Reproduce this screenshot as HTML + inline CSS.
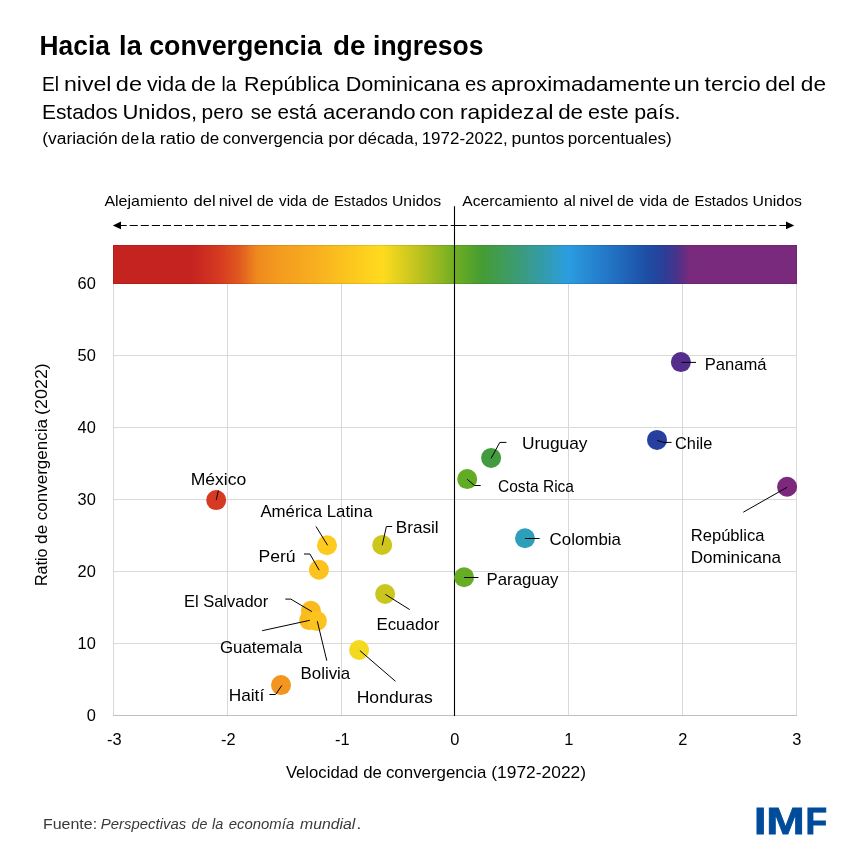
<!DOCTYPE html>
<html lang="es">
<head>
<meta charset="utf-8">
<title>Hacia la convergencia de ingresos</title>
<style>
html,body{margin:0;padding:0;background:#fff;}
body{width:867px;height:867px;overflow:hidden;}
svg{display:block;font-family:"Liberation Sans", sans-serif;}
text{white-space:pre;}
</style>
</head>
<body>
<svg width="867" height="867" viewBox="0 0 867 867">
<defs><linearGradient id="g" x1="0" y1="0" x2="1" y2="0"><stop offset="0%" stop-color="#c42320"/><stop offset="11.5%" stop-color="#c42320"/><stop offset="15.6%" stop-color="#d63a20"/><stop offset="18.5%" stop-color="#e05a1f"/><stop offset="21.1%" stop-color="#ee8a1f"/><stop offset="24%" stop-color="#f39a1f"/><stop offset="27.2%" stop-color="#f6a51f"/><stop offset="39.4%" stop-color="#ffdb1e"/><stop offset="45%" stop-color="#b9c11f"/><stop offset="50%" stop-color="#6fae22"/><stop offset="54%" stop-color="#459c33"/><stop offset="60%" stop-color="#3a9b80"/><stop offset="66.5%" stop-color="#2b9de0"/><stop offset="73%" stop-color="#2272c3"/><stop offset="78%" stop-color="#1d4fa5"/><stop offset="80.5%" stop-color="#2b3e98"/><stop offset="82.5%" stop-color="#4a3389"/><stop offset="84.3%" stop-color="#792a7c"/><stop offset="100%" stop-color="#792a7c"/></linearGradient></defs>
<rect width="867" height="867" fill="#fff"/>
<text y="55.2" font-size="27.4" font-weight="bold" font-style="normal" fill="#000"><tspan x="39.62" textLength="70.23" lengthAdjust="spacingAndGlyphs">Hacia</tspan> <tspan x="119.12" textLength="22.63" lengthAdjust="spacingAndGlyphs">la</tspan> <tspan x="149.22" textLength="172.59" lengthAdjust="spacingAndGlyphs">convergencia</tspan> <tspan x="333.13" textLength="32.45" lengthAdjust="spacingAndGlyphs">de</tspan> <tspan x="373.07" textLength="110.37" lengthAdjust="spacingAndGlyphs">ingresos</tspan></text>
<text y="91.4" font-size="20.6" font-weight="normal" font-style="normal" fill="#000"><tspan x="42.07" textLength="17.05" lengthAdjust="spacingAndGlyphs">El</tspan> <tspan x="63.91" textLength="47.61" lengthAdjust="spacingAndGlyphs">nivel</tspan> <tspan x="115.84" textLength="26.21" lengthAdjust="spacingAndGlyphs">de</tspan> <tspan x="146.94" textLength="39.19" lengthAdjust="spacingAndGlyphs">vida</tspan> <tspan x="191.08" textLength="24.92" lengthAdjust="spacingAndGlyphs">de</tspan> <tspan x="221.40" textLength="14.93" lengthAdjust="spacingAndGlyphs">la</tspan> <tspan x="243.97" textLength="95.62" lengthAdjust="spacingAndGlyphs">República</tspan> <tspan x="345.66" textLength="114.14" lengthAdjust="spacingAndGlyphs">Dominicana</tspan> <tspan x="465.02" textLength="21.33" lengthAdjust="spacingAndGlyphs">es</tspan> <tspan x="491.01" textLength="180.11" lengthAdjust="spacingAndGlyphs">aproximadamente</tspan> <tspan x="673.78" textLength="26.03" lengthAdjust="spacingAndGlyphs">un</tspan> <tspan x="704.52" textLength="56.24" lengthAdjust="spacingAndGlyphs">tercio</tspan> <tspan x="765.18" textLength="30.18" lengthAdjust="spacingAndGlyphs">del</tspan> <tspan x="800.87" textLength="25.24" lengthAdjust="spacingAndGlyphs">de</tspan></text>
<text y="118.9" font-size="20.6" font-weight="normal" font-style="normal" fill="#000"><tspan x="41.92" textLength="75.77" lengthAdjust="spacingAndGlyphs">Estados</tspan> <tspan x="122.40" textLength="74.66" lengthAdjust="spacingAndGlyphs">Unidos,</tspan> <tspan x="201.63" textLength="41.85" lengthAdjust="spacingAndGlyphs">pero</tspan> <tspan x="250.76" textLength="21.33" lengthAdjust="spacingAndGlyphs">se</tspan> <tspan x="277.60" textLength="39.04" lengthAdjust="spacingAndGlyphs">está</tspan> <tspan x="322.92" textLength="92.72" lengthAdjust="spacingAndGlyphs">acerando</tspan> <tspan x="419.15" textLength="34.89" lengthAdjust="spacingAndGlyphs">con</tspan> <tspan x="460.05" textLength="74.30" lengthAdjust="spacingAndGlyphs">rapidez</tspan> <tspan x="535.15" textLength="18.42" lengthAdjust="spacingAndGlyphs">al</tspan> <tspan x="558.18" textLength="24.92" lengthAdjust="spacingAndGlyphs">de</tspan> <tspan x="587.95" textLength="40.73" lengthAdjust="spacingAndGlyphs">este</tspan> <tspan x="634.20" textLength="46.38" lengthAdjust="spacingAndGlyphs">país.</tspan></text>
<text y="143.8" font-size="15.8" font-weight="normal" font-style="normal" fill="#000"><tspan x="42.20" textLength="75.49" lengthAdjust="spacingAndGlyphs">(variación</tspan> <tspan x="121.33" textLength="17.96" lengthAdjust="spacingAndGlyphs">de</tspan> <tspan x="141.25" textLength="14.10" lengthAdjust="spacingAndGlyphs">la</tspan> <tspan x="159.74" textLength="35.72" lengthAdjust="spacingAndGlyphs">ratio</tspan> <tspan x="200.29" textLength="18.93" lengthAdjust="spacingAndGlyphs">de</tspan> <tspan x="222.80" textLength="100.57" lengthAdjust="spacingAndGlyphs">convergencia</tspan> <tspan x="328.36" textLength="26.14" lengthAdjust="spacingAndGlyphs">por</tspan> <tspan x="357.99" textLength="60.49" lengthAdjust="spacingAndGlyphs">década,</tspan> <tspan x="421.66" textLength="85.99" lengthAdjust="spacingAndGlyphs">1972-2022,</tspan> <tspan x="511.48" textLength="52.98" lengthAdjust="spacingAndGlyphs">puntos</tspan> <tspan x="567.81" textLength="103.94" lengthAdjust="spacingAndGlyphs">porcentuales)</tspan></text>
<text y="205.6" font-size="14.8" font-weight="normal" font-style="normal" fill="#000"><tspan x="104.40" textLength="83.42" lengthAdjust="spacingAndGlyphs">Alejamiento</tspan> <tspan x="193.56" textLength="22.16" lengthAdjust="spacingAndGlyphs">del</tspan> <tspan x="218.69" textLength="33.64" lengthAdjust="spacingAndGlyphs">nivel</tspan> <tspan x="256.73" textLength="17.02" lengthAdjust="spacingAndGlyphs">de</tspan> <tspan x="279.00" textLength="28.00" lengthAdjust="spacingAndGlyphs">vida</tspan> <tspan x="311.93" textLength="17.02" lengthAdjust="spacingAndGlyphs">de</tspan> <tspan x="333.95" textLength="53.62" lengthAdjust="spacingAndGlyphs">Estados</tspan> <tspan x="391.97" textLength="49.13" lengthAdjust="spacingAndGlyphs">Unidos</tspan></text>
<text y="205.6" font-size="14.8" font-weight="normal" font-style="normal" fill="#000"><tspan x="462.30" textLength="95.96" lengthAdjust="spacingAndGlyphs">Acercamiento</tspan> <tspan x="563.60" textLength="12.30" lengthAdjust="spacingAndGlyphs">al</tspan> <tspan x="579.49" textLength="33.86" lengthAdjust="spacingAndGlyphs">nivel</tspan> <tspan x="617.12" textLength="17.02" lengthAdjust="spacingAndGlyphs">de</tspan> <tspan x="639.60" textLength="28.00" lengthAdjust="spacingAndGlyphs">vida</tspan> <tspan x="672.52" textLength="17.02" lengthAdjust="spacingAndGlyphs">de</tspan> <tspan x="694.55" textLength="53.62" lengthAdjust="spacingAndGlyphs">Estados</tspan> <tspan x="752.56" textLength="49.34" lengthAdjust="spacingAndGlyphs">Unidos</tspan></text>
<line x1="458.8" y1="225.5" x2="120" y2="225.5" stroke="#000" stroke-width="1.2" stroke-dasharray="8.1 2.97"/>
<line x1="458.3" y1="225.5" x2="787" y2="225.5" stroke="#000" stroke-width="1.2" stroke-dasharray="8.1 2.97"/>
<polygon points="112.8,225.4 121,221.6 121,229.2" fill="#000"/>
<polygon points="794.2,225.4 786,221.6 786,229.2" fill="#000"/>
<rect x="113" y="245" width="684" height="39" fill="url(#g)"/>
<rect x="113.5" y="245.5" width="683" height="38" fill="none" stroke="#000" stroke-opacity="0.09" stroke-width="1"/>
<line x1="113.5" y1="284" x2="113.5" y2="716" stroke="#d9d9d9" stroke-width="1"/>
<line x1="227.5" y1="284" x2="227.5" y2="716" stroke="#d9d9d9" stroke-width="1"/>
<line x1="341.5" y1="284" x2="341.5" y2="716" stroke="#d9d9d9" stroke-width="1"/>
<line x1="568.5" y1="284" x2="568.5" y2="716" stroke="#d9d9d9" stroke-width="1"/>
<line x1="682.5" y1="284" x2="682.5" y2="716" stroke="#d9d9d9" stroke-width="1"/>
<line x1="796.5" y1="284" x2="796.5" y2="716" stroke="#d9d9d9" stroke-width="1"/>
<line x1="113" y1="643.5" x2="797" y2="643.5" stroke="#d9d9d9" stroke-width="1"/>
<line x1="113" y1="571.5" x2="797" y2="571.5" stroke="#d9d9d9" stroke-width="1"/>
<line x1="113" y1="499.5" x2="797" y2="499.5" stroke="#d9d9d9" stroke-width="1"/>
<line x1="113" y1="427.5" x2="797" y2="427.5" stroke="#d9d9d9" stroke-width="1"/>
<line x1="113" y1="355.5" x2="797" y2="355.5" stroke="#d9d9d9" stroke-width="1"/>
<line x1="113" y1="715.5" x2="797" y2="715.5" stroke="#bfbfbf" stroke-width="1"/>
<line x1="454.5" y1="206.3" x2="454.5" y2="716" stroke="#000" stroke-width="1.1"/>
<text x="95.8" y="721.1" font-size="16.4" text-anchor="end">0</text>
<text x="95.8" y="649.1" font-size="16.4" text-anchor="end">10</text>
<text x="95.8" y="577.1" font-size="16.4" text-anchor="end">20</text>
<text x="95.8" y="505.1" font-size="16.4" text-anchor="end">30</text>
<text x="95.8" y="433.1" font-size="16.4" text-anchor="end">40</text>
<text x="95.8" y="361.1" font-size="16.4" text-anchor="end">50</text>
<text x="95.8" y="289.1" font-size="16.4" text-anchor="end">60</text>
<text x="114.3" y="745.4" font-size="16.4" text-anchor="middle">-3</text>
<text x="228.3" y="745.4" font-size="16.4" text-anchor="middle">-2</text>
<text x="342.3" y="745.4" font-size="16.4" text-anchor="middle">-1</text>
<text x="454.8" y="745.4" font-size="16.4" text-anchor="middle">0</text>
<text x="568.8" y="745.4" font-size="16.4" text-anchor="middle">1</text>
<text x="682.8" y="745.4" font-size="16.4" text-anchor="middle">2</text>
<text x="796.8" y="745.4" font-size="16.4" text-anchor="middle">3</text>
<text y="778.0" font-size="16.4" font-weight="normal" font-style="normal" fill="#000"><tspan x="285.90" textLength="72.31" lengthAdjust="spacingAndGlyphs">Velocidad</tspan> <tspan x="363.23" textLength="18.62" lengthAdjust="spacingAndGlyphs">de</tspan> <tspan x="385.93" textLength="100.37" lengthAdjust="spacingAndGlyphs">convergencia</tspan> <tspan x="491.34" textLength="94.69" lengthAdjust="spacingAndGlyphs">(1972-2022)</tspan></text>
<g transform="translate(46.8,585.4) rotate(-90)">
<text y="0.0" font-size="16.4" font-weight="normal" font-style="normal" fill="#000"><tspan x="-0.73" textLength="37.69" lengthAdjust="spacingAndGlyphs">Ratio</tspan> <tspan x="41.51" textLength="19.27" lengthAdjust="spacingAndGlyphs">de</tspan> <tspan x="65.12" textLength="101.38" lengthAdjust="spacingAndGlyphs">convergencia</tspan> <tspan x="170.51" textLength="51.74" lengthAdjust="spacingAndGlyphs">(2022)</tspan></text>
</g>
<circle cx="216.2" cy="500.1" r="10.0" fill="#d63a22"/>
<circle cx="327.0" cy="545.3" r="10.0" fill="#fdca1e"/>
<circle cx="382.2" cy="545.0" r="10.0" fill="#cfc61d"/>
<circle cx="318.9" cy="569.8" r="10.0" fill="#fcc21e"/>
<circle cx="385.1" cy="594.0" r="10.0" fill="#cbc51f"/>
<circle cx="310.9" cy="610.8" r="10.0" fill="#fabb1e"/>
<circle cx="309.2" cy="620.1" r="10.0" fill="#fabb1e"/>
<circle cx="316.9" cy="620.9" r="10.0" fill="#fcc31e"/>
<circle cx="359.1" cy="650.0" r="10.0" fill="#f3d91f"/>
<circle cx="281.0" cy="685.1" r="10.0" fill="#f2961f"/>
<circle cx="680.9" cy="362.1" r="10.0" fill="#552d8c"/>
<circle cx="657.0" cy="439.9" r="10.0" fill="#273f9e"/>
<circle cx="491.1" cy="457.9" r="10.0" fill="#439b3f"/>
<circle cx="467.2" cy="479.1" r="10.0" fill="#62ab25"/>
<circle cx="787.1" cy="486.8" r="10.0" fill="#7b287d"/>
<circle cx="525.0" cy="538.3" r="10.0" fill="#2e9fb9"/>
<circle cx="464.1" cy="577.3" r="10.0" fill="#66ac24"/>
<polyline points="218.4,490.4 216.2,500.1" fill="none" stroke="#000" stroke-width="1"/>
<polyline points="316,526.5 327.6,545.3" fill="none" stroke="#000" stroke-width="1"/>
<polyline points="392.2,526.5 386.4,526.5 382.2,545.3" fill="none" stroke="#000" stroke-width="1"/>
<polyline points="304,554 309.9,554 319.2,570.2" fill="none" stroke="#000" stroke-width="1"/>
<polyline points="385.4,594.4 409.7,609.6" fill="none" stroke="#000" stroke-width="1"/>
<polyline points="285.3,599.1 290.8,599.1 311.9,611.6" fill="none" stroke="#000" stroke-width="1"/>
<polyline points="262.2,630.7 309.8,620.3" fill="none" stroke="#000" stroke-width="1"/>
<polyline points="317.3,621.2 326.8,660.7" fill="none" stroke="#000" stroke-width="1"/>
<polyline points="359.9,650.6 395.5,681.3" fill="none" stroke="#000" stroke-width="1"/>
<polyline points="269.4,694.5 275.6,694.5 281.8,685.5" fill="none" stroke="#000" stroke-width="1"/>
<polyline points="681.5,362.4 696,362.4" fill="none" stroke="#000" stroke-width="1"/>
<polyline points="657.2,440.5 663.9,442.4 671.6,442.4" fill="none" stroke="#000" stroke-width="1"/>
<polyline points="491.1,458.4 499.8,442.4 506.4,442.4" fill="none" stroke="#000" stroke-width="1"/>
<polyline points="467.2,479.3 474.5,485.5 480.7,485.5" fill="none" stroke="#000" stroke-width="1"/>
<polyline points="787.1,487.3 743.3,512.2" fill="none" stroke="#000" stroke-width="1"/>
<polyline points="525.1,538.5 539.6,538.5" fill="none" stroke="#000" stroke-width="1"/>
<polyline points="464.1,577.5 478.4,577.5" fill="none" stroke="#000" stroke-width="1"/>
<text y="484.7" font-size="16.4" font-weight="normal" font-style="normal" fill="#000"><tspan x="190.66" textLength="55.66" lengthAdjust="spacingAndGlyphs">México</tspan></text>
<text y="517.0" font-size="16.4" font-weight="normal" font-style="normal" fill="#000"><tspan x="260.40" textLength="112.18" lengthAdjust="spacingAndGlyphs">América Latina</tspan></text>
<text y="533.2" font-size="16.4" font-weight="normal" font-style="normal" fill="#000"><tspan x="395.69" textLength="43.02" lengthAdjust="spacingAndGlyphs">Brasil</tspan></text>
<text y="561.9" font-size="16.4" font-weight="normal" font-style="normal" fill="#000"><tspan x="258.46" textLength="37.15" lengthAdjust="spacingAndGlyphs">Perú</tspan></text>
<text y="607.2" font-size="16.4" font-weight="normal" font-style="normal" fill="#000"><tspan x="183.94" textLength="84.29" lengthAdjust="spacingAndGlyphs">El Salvador</tspan></text>
<text y="630.1" font-size="16.4" font-weight="normal" font-style="normal" fill="#000"><tspan x="376.41" textLength="62.91" lengthAdjust="spacingAndGlyphs">Ecuador</tspan></text>
<text y="653.0" font-size="16.4" font-weight="normal" font-style="normal" fill="#000"><tspan x="219.93" textLength="82.41" lengthAdjust="spacingAndGlyphs">Guatemala</tspan></text>
<text y="678.9" font-size="16.4" font-weight="normal" font-style="normal" fill="#000"><tspan x="300.51" textLength="49.74" lengthAdjust="spacingAndGlyphs">Bolivia</tspan></text>
<text y="701.1" font-size="16.4" font-weight="normal" font-style="normal" fill="#000"><tspan x="228.68" textLength="35.53" lengthAdjust="spacingAndGlyphs">Haití</tspan></text>
<text y="702.8" font-size="16.4" font-weight="normal" font-style="normal" fill="#000"><tspan x="356.66" textLength="76.26" lengthAdjust="spacingAndGlyphs">Honduras</tspan></text>
<text y="369.9" font-size="16.4" font-weight="normal" font-style="normal" fill="#000"><tspan x="704.73" textLength="61.83" lengthAdjust="spacingAndGlyphs">Panamá</tspan></text>
<text y="449.2" font-size="16.4" font-weight="normal" font-style="normal" fill="#000"><tspan x="675.05" textLength="37.26" lengthAdjust="spacingAndGlyphs">Chile</tspan></text>
<text y="448.8" font-size="16.4" font-weight="normal" font-style="normal" fill="#000"><tspan x="521.98" textLength="65.54" lengthAdjust="spacingAndGlyphs">Uruguay</tspan></text>
<text y="491.7" font-size="16.4" font-weight="normal" font-style="normal" fill="#000"><tspan x="497.99" textLength="76.04" lengthAdjust="spacingAndGlyphs">Costa Rica</tspan></text>
<text y="540.8" font-size="16.4" font-weight="normal" font-style="normal" fill="#000"><tspan x="690.74" textLength="73.72" lengthAdjust="spacingAndGlyphs">República</tspan></text>
<text y="562.7" font-size="16.4" font-weight="normal" font-style="normal" fill="#000"><tspan x="690.70" textLength="90.37" lengthAdjust="spacingAndGlyphs">Dominicana</tspan></text>
<text y="544.7" font-size="16.4" font-weight="normal" font-style="normal" fill="#000"><tspan x="549.63" textLength="71.37" lengthAdjust="spacingAndGlyphs">Colombia</tspan></text>
<text y="584.6" font-size="16.4" font-weight="normal" font-style="normal" fill="#000"><tspan x="486.52" textLength="71.96" lengthAdjust="spacingAndGlyphs">Paraguay</tspan></text>
<text y="828.9" font-size="14.6" fill="#3a3a3a"><tspan x="42.93" textLength="54.24" lengthAdjust="spacingAndGlyphs">Fuente:</tspan> <tspan font-style="italic"><tspan x="100.89" textLength="85.31" lengthAdjust="spacingAndGlyphs">Perspectivas</tspan> <tspan x="191.61" textLength="15.86" lengthAdjust="spacingAndGlyphs">de</tspan> <tspan x="211.95" textLength="11.25" lengthAdjust="spacingAndGlyphs">la</tspan> <tspan x="228.69" textLength="65.52" lengthAdjust="spacingAndGlyphs">economía</tspan> <tspan x="300.13" textLength="55.25" lengthAdjust="spacingAndGlyphs">mundial</tspan></tspan><tspan x="356.32" textLength="5.15" lengthAdjust="spacingAndGlyphs">.</tspan></text>
<text y="833.8" font-size="36.8" font-weight="bold" fill="#004c9b" stroke="#004c9b" stroke-width="0.8"><tspan x="754.12" textLength="12.36" lengthAdjust="spacingAndGlyphs">I</tspan><tspan x="766.22" textLength="38.44" lengthAdjust="spacingAndGlyphs">M</tspan><tspan x="805.42" textLength="21.70" lengthAdjust="spacingAndGlyphs">F</tspan></text>
</svg>
</body>
</html>
